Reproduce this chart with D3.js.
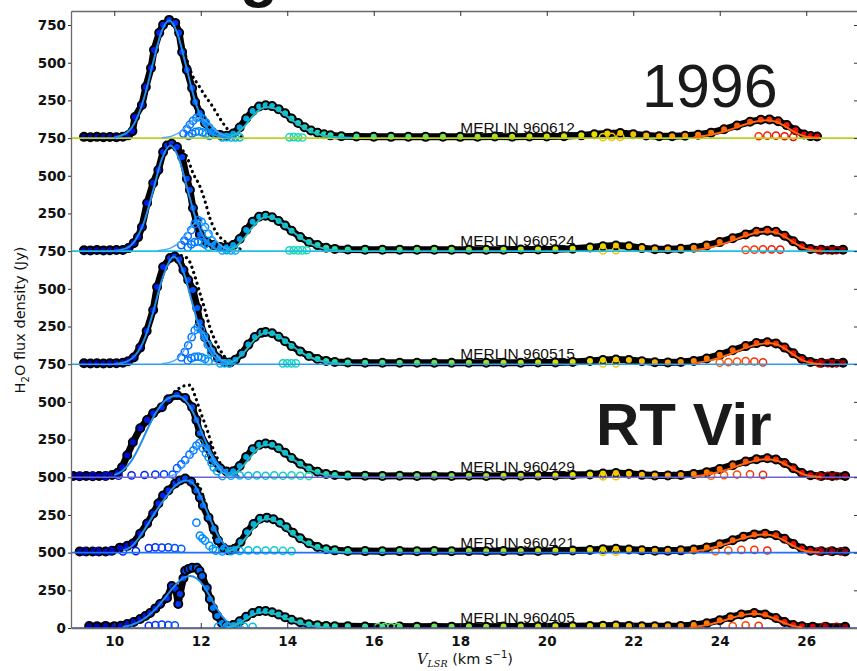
<!DOCTYPE html>
<html>
<head>
<meta charset="utf-8">
<script src="https://cdnjs.cloudflare.com/ajax/libs/d3/7.8.5/d3.min.js"></script>
<style>
  body { margin: 0; background: #fff; }
  svg { display: block; }
</style>
</head>
<body>
<div id="chart"></div>
<script>
// ---- chart data -------------------------------------------------------
const panelLabels = ["MERLIN 960612", "MERLIN 960524", "MERLIN 960515", "MERLIN 960429", "MERLIN 960421", "MERLIN 960405"];
const panelOffsets = [3250, 2500, 1750, 1000, 500, 0];   // Jy added to each epoch
const baseColors = ["#b8d020", "#20c0e0", "#2aa0f0", "#6a64d8", "#1e70ff", "#3050d8"];

const xTicks = [10, 12, 14, 16, 18, 20, 22, 24, 26];
const yTicks = [0, 250, 500, 750, 1000, 1250, 1500, 1750, 2000, 2250, 2500, 2750, 3000, 3250, 3500, 3750, 4000];
const yTickLabels = ["0", "250", "500", "250", "500", "250", "500", "750", "250", "500", "750", "250", "500", "750", "250", "500", "750"];

// spectra: [V_LSR km/s, flux Jy above the epoch baseline]
const spec960612 = [[9.3,8],[9.45,6],[9.6,8],[9.75,5],[9.9,7],[10.05,6],[10.2,9],[10.32,18],[10.42,45],[10.48,140],[10.64,219],[10.73,339],[10.85,465],[10.92,585],[11.04,698],[11.13,751],[11.27,784],[11.41,764],[11.5,698],[11.57,571],[11.68,452],[11.8,332],[11.87,239],[11.98,166],[12.1,100],[12.26,40],[12.45,20],[12.6,15],[12.75,30],[12.9,70],[13.05,130],[13.2,180],[13.35,210],[13.5,218],[13.65,212],[13.8,192],[13.95,165],[14.1,130],[14.25,100],[14.4,72],[14.55,50],[14.7,35],[14.85,25],[15.0,18],[15.25,12],[15.6,10],[16.0,9],[16.4,8],[16.8,9],[17.2,8],[17.6,9],[18.0,8],[18.4,9],[18.8,10],[19.2,9],[19.6,10],[20.0,10],[20.4,12],[20.8,18],[21.1,25],[21.4,31],[21.7,33],[22.0,26],[22.3,17],[22.6,12],[22.9,12],[23.2,15],[23.5,22],[23.8,36],[24.1,58],[24.4,84],[24.7,108],[24.95,122],[25.15,124],[25.35,112],[25.55,86],[25.75,52],[25.95,24],[26.1,13],[26.25,10]];
const spec960524 = [[9.3,6],[9.45,5],[9.6,7],[9.75,5],[9.9,6],[10.05,7],[10.2,8],[10.33,20],[10.45,53],[10.55,93],[10.64,160],[10.76,319],[10.9,452],[11.02,538],[11.13,658],[11.22,700],[11.33,712],[11.45,690],[11.57,625],[11.68,480],[11.75,405],[11.82,286],[11.9,193],[11.98,110],[12.14,60],[12.3,40],[12.45,28],[12.6,25],[12.75,40],[12.9,80],[13.05,140],[13.2,195],[13.35,228],[13.5,235],[13.65,225],[13.8,200],[13.95,170],[14.1,135],[14.3,93],[14.5,60],[14.7,40],[14.9,22],[15.1,15],[15.4,11],[15.8,10],[16.2,9],[16.6,10],[17.0,9],[17.4,10],[17.8,9],[18.2,10],[18.6,9],[19.0,10],[19.4,11],[19.8,11],[20.2,12],[20.6,16],[21.0,24],[21.3,32],[21.6,37],[21.9,32],[22.2,20],[22.5,13],[22.8,13],[23.1,16],[23.4,23],[23.7,38],[24.0,60],[24.3,86],[24.6,110],[24.85,128],[25.1,136],[25.3,128],[25.5,102],[25.7,66],[25.9,32],[26.1,14],[26.35,10],[26.6,9],[26.85,10]];
const spec960515 = [[9.3,6],[9.45,5],[9.6,6],[9.75,5],[9.9,6],[10.05,7],[10.2,9],[10.32,20],[10.45,45],[10.6,110],[10.75,220],[10.9,359],[10.99,512],[11.13,645],[11.29,704],[11.4,715],[11.5,695],[11.6,625],[11.71,559],[11.82,492],[11.92,372],[11.98,279],[12.1,179],[12.26,93],[12.4,40],[12.55,15],[12.68,12],[12.8,30],[12.95,70],[13.1,130],[13.25,180],[13.4,208],[13.5,213],[13.65,205],[13.8,182],[13.95,152],[14.1,120],[14.3,85],[14.5,55],[14.7,35],[14.9,22],[15.1,15],[15.4,11],[15.8,10],[16.2,9],[16.6,10],[17.0,9],[17.4,10],[17.8,9],[18.2,10],[18.6,10],[19.0,9],[19.4,10],[19.8,11],[20.2,12],[20.6,15],[21.0,22],[21.3,28],[21.6,31],[21.9,28],[22.2,19],[22.5,13],[22.8,12],[23.1,15],[23.4,22],[23.7,38],[24.0,62],[24.3,92],[24.6,120],[24.85,140],[25.1,146],[25.3,138],[25.5,110],[25.7,72],[25.9,35],[26.1,15],[26.35,10],[26.6,9],[26.85,10]];
const spec960429 = [[9.05,8],[9.2,7],[9.35,8],[9.5,7],[9.65,8],[9.8,9],[9.95,15],[10.08,30],[10.18,66],[10.3,146],[10.43,232],[10.6,325],[10.76,379],[10.9,425],[11.1,465],[11.25,518],[11.45,545],[11.64,525],[11.8,465],[11.9,379],[11.98,292],[12.15,199],[12.28,113],[12.45,60],[12.6,38],[12.75,40],[12.9,75],[13.05,135],[13.2,185],[13.35,215],[13.5,224],[13.65,215],[13.8,192],[13.95,162],[14.1,128],[14.3,90],[14.5,58],[14.7,36],[14.9,22],[15.1,15],[15.4,11],[15.8,10],[16.2,9],[16.6,10],[17.0,9],[17.4,10],[17.8,9],[18.2,10],[18.6,9],[19.0,10],[19.4,10],[19.8,11],[20.2,12],[20.6,15],[21.0,19],[21.3,25],[21.6,28],[21.9,24],[22.2,16],[22.5,12],[22.8,12],[23.1,15],[23.4,21],[23.7,34],[24.0,55],[24.3,80],[24.6,104],[24.85,120],[25.1,126],[25.3,118],[25.5,94],[25.7,60],[25.9,28],[26.1,13],[26.35,9],[26.6,9],[26.9,8]];
const spec960421 = [[9.2,8],[9.35,7],[9.5,8],[9.65,7],[9.8,8],[9.95,12],[10.13,33],[10.3,45],[10.43,60],[10.6,126],[10.76,193],[10.9,259],[11.02,326],[11.13,379],[11.25,412],[11.41,458],[11.52,478],[11.64,492],[11.78,470],[11.9,412],[11.98,365],[12.05,312],[12.18,232],[12.3,159],[12.4,80],[12.52,33],[12.65,15],[12.78,25],[12.92,70],[13.07,135],[13.22,190],[13.37,225],[13.53,232],[13.68,222],[13.83,198],[13.98,168],[14.13,132],[14.3,95],[14.5,62],[14.7,38],[14.9,22],[15.1,15],[15.4,11],[15.8,10],[16.2,9],[16.6,10],[17.0,9],[17.4,10],[17.8,9],[18.2,10],[18.6,9],[19.0,10],[19.4,10],[19.8,11],[20.2,12],[20.6,14],[21.0,18],[21.3,23],[21.6,26],[21.9,21],[22.2,15],[22.5,12],[22.8,12],[23.1,15],[23.4,21],[23.7,34],[24.0,56],[24.3,82],[24.55,106],[24.8,121],[25.05,126],[25.3,116],[25.5,92],[25.7,58],[25.9,27],[26.1,13],[26.35,9],[26.6,9],[26.9,8]];
const spec960405 = [[9.42,13],[9.6,12],[9.8,14],[10.0,12],[10.15,15],[10.3,27],[10.45,40],[10.6,60],[10.72,80],[10.83,100],[10.95,130],[11.06,159],[11.22,199],[11.33,279],[11.42,260],[11.48,159],[11.52,226],[11.6,330],[11.64,379],[11.72,392],[11.8,399],[11.91,399],[11.97,380],[12.03,345],[12.14,266],[12.21,193],[12.28,133],[12.38,80],[12.49,33],[12.6,15],[12.75,20],[12.9,45],[13.05,75],[13.2,100],[13.35,112],[13.5,113],[13.65,105],[13.8,90],[13.95,72],[14.1,55],[14.3,38],[14.5,25],[14.7,18],[14.9,14],[15.1,12],[15.4,11],[15.8,10],[16.2,9],[16.6,10],[17.0,9],[17.4,10],[17.8,9],[18.2,10],[18.6,9],[19.0,10],[19.4,10],[19.8,10],[20.2,11],[20.6,12],[21.0,13],[21.3,15],[21.6,16],[21.9,14],[22.2,12],[22.5,11],[22.8,12],[23.1,14],[23.4,20],[23.7,32],[24.0,52],[24.25,72],[24.5,90],[24.8,100],[25.05,90],[25.3,66],[25.5,40],[25.7,20],[25.9,11],[26.15,9],[26.45,9],[26.9,8]];

// black dotted comparison profiles
const dots960612 = [[11.45,760],[11.6,600],[11.7,500],[11.8,419],[11.95,350],[12.1,280],[12.25,220],[12.4,150],[12.55,85],[12.68,40],[12.85,15],[13.0,5]];
const dots960524 = [[11.5,690],[11.68,625],[11.82,518],[11.98,430],[12.1,330],[12.21,220],[12.37,120],[12.52,73],[12.68,45],[12.85,20],[13.0,8]];
const dots960515 = [[11.55,720],[11.7,700],[11.87,578],[11.98,472],[12.1,359],[12.21,246],[12.33,159],[12.45,93],[12.56,47],[12.68,13],[12.85,4]];
const dots960429 = [[11.3,540],[11.45,580],[11.6,605],[11.75,611],[11.88,530],[11.98,445],[12.15,312],[12.3,179],[12.45,93],[12.6,47],[12.75,18],[12.9,6]];
const dots960421 = [[11.7,485],[11.85,470],[11.98,432],[12.1,326],[12.18,212],[12.26,126],[12.35,65],[12.45,28],[12.6,8]];
const dots960405 = [];

// open circles: velocity components
const open960612 = [[11.6,30],[11.68,60],[11.75,90],[11.82,115],[11.9,135],[11.98,140],[12.05,128],[12.12,100],[12.2,70],[12.28,42],[12.36,22],[11.72,15],[11.8,30],[11.88,42],[11.96,45],[12.04,38],[12.12,28],[12.2,15],[12.5,5],[12.6,6],[12.7,4],[12.8,5],[12.9,5],[14.05,5],[14.15,6],[14.25,5],[14.35,4],[21.3,6],[21.5,8],[21.7,7],[24.9,12],[25.1,16],[25.3,16],[25.5,12],[25.7,8]];
const open960524 = [[11.55,40],[11.62,70],[11.7,100],[11.78,140],[11.86,180],[11.94,206],[12.02,195],[12.1,160],[12.18,115],[12.26,70],[12.34,40],[11.7,25],[11.78,45],[11.86,60],[11.94,65],[12.02,58],[12.1,45],[12.18,28],[12.5,5],[12.6,6],[12.7,5],[12.8,5],[14.05,5],[14.15,6],[14.25,5],[14.35,5],[14.45,6],[21.3,5],[21.6,6],[24.6,8],[24.8,10],[25.0,12],[25.2,12],[25.4,10],[26.3,6],[26.5,7],[26.7,6]];
const open960515 = [[11.55,45],[11.63,80],[11.71,125],[11.79,180],[11.86,225],[11.93,246],[12.0,230],[12.08,185],[12.16,130],[12.24,80],[12.32,45],[11.7,25],[11.78,40],[11.86,48],[11.94,50],[12.02,45],[12.1,35],[12.18,20],[12.45,5],[12.55,6],[12.65,5],[13.9,5],[14.0,6],[14.1,5],[14.2,5],[21.3,5],[21.6,6],[24.0,10],[24.2,14],[24.4,18],[24.6,20],[24.8,18],[25.0,12],[26.3,6],[26.5,7],[26.7,6]];
const open960429 = [[11.45,60],[11.55,85],[11.64,113],[11.74,150],[11.83,179],[11.9,210],[11.97,226],[12.05,193],[12.12,160],[12.18,133],[12.25,95],[12.3,66],[12.38,40],[9.2,8],[9.5,10],[9.8,8],[10.1,10],[10.4,12],[10.7,15],[10.95,18],[11.15,20],[11.35,18],[12.5,8],[12.7,10],[12.9,12],[13.1,10],[13.3,12],[13.5,10],[13.7,12],[13.9,10],[14.1,12],[14.3,10],[14.5,8],[21.3,6],[21.6,7],[23.8,10],[24.1,14],[24.4,18],[24.7,20],[25.0,16],[26.3,8],[26.5,10],[26.7,8]];
const open960421 = [[11.9,199],[11.98,113],[12.04,95],[12.1,80],[12.2,46],[12.28,25],[12.35,13],[9.3,8],[9.6,8],[9.9,10],[10.2,8],[10.5,10],[10.8,30],[10.95,35],[11.1,33],[11.25,35],[11.4,30],[11.55,25],[12.5,8],[12.7,10],[12.9,12],[13.1,15],[13.3,15],[13.5,14],[13.7,15],[13.9,12],[14.1,10],[21.3,5],[21.6,6],[23.9,10],[24.2,14],[24.5,18],[24.8,18],[25.1,14],[26.3,8],[26.55,10],[26.8,8]];
const open960405 = [[10.8,15],[10.95,20],[11.1,22],[11.25,20],[11.4,18],[12.4,8],[12.6,10],[12.8,8],[13.0,10],[13.2,8],[16.1,6],[16.25,6],[16.4,6],[16.55,6],[24.3,12],[24.6,18],[24.9,15],[26.4,8],[26.7,8]];

// fitted profiles: main peak, secondary component, 13.5 km/s and 25 km/s features
const fitMain960612 = [[10.0,4],[10.3,38],[10.5,117],[10.7,276],[10.9,503],[11.1,711],[11.27,780],[11.45,703],[11.65,491],[11.85,265],[12.05,111],[12.25,36],[12.45,9],[12.7,2]];
const fitMain960524 = [[10.0,2],[10.3,22],[10.5,78],[10.7,202],[10.9,403],[11.1,610],[11.3,700],[11.5,610],[11.7,403],[11.9,202],[12.1,78],[12.3,22],[12.5,5],[12.7,1]];
const fitMain960515 = [[10.0,2],[10.3,19],[10.5,63],[10.7,168],[10.9,346],[11.1,557],[11.38,712],[11.6,612],[11.8,410],[12.0,214],[12.2,87],[12.4,28],[12.6,7],[12.8,1]];
const fitMain960429 = [[10.0,15],[10.2,45],[10.4,110],[10.6,215],[10.8,340],[11.0,445],[11.2,515],[11.45,540],[11.7,490],[11.9,385],[12.1,245],[12.3,130],[12.5,55],[12.7,18],[12.9,5]];
const fitMain960421 = [[10.2,15],[10.4,40],[10.6,110],[10.8,200],[11.0,290],[11.2,370],[11.4,440],[11.55,470],[11.68,478],[11.85,450],[12.0,370],[12.15,270],[12.3,170],[12.45,90],[12.6,40],[12.75,15],[12.9,5]];
const fitMain960405 = [[10.2,8],[10.4,20],[10.6,45],[10.8,85],[11.0,140],[11.2,210],[11.4,280],[11.6,332],[11.75,345],[11.9,330],[12.05,285],[12.2,215],[12.35,140],[12.5,75],[12.65,32],[12.8,12],[13.0,3]];

const fitComp960612 = [[11.1,3],[11.35,15],[11.55,45],[11.75,100],[11.95,135],[12.15,105],[12.35,48],[12.55,14],[12.8,2]];
const fitComp960524 = [[11.0,3],[11.3,20],[11.55,70],[11.75,150],[11.95,200],[12.15,150],[12.35,70],[12.6,15],[12.9,2]];
const fitComp960515 = [[11.1,3],[11.4,25],[11.6,85],[11.8,190],[11.95,240],[12.1,190],[12.3,85],[12.5,25],[12.8,3]];
const fitComp960429 = [[11.2,3],[11.45,25],[11.65,90],[11.85,180],[12.0,215],[12.15,180],[12.35,90],[12.55,25],[12.8,3]];
const fitComp960421 = [];
const fitComp960405 = [];

const fitMid960612 = [[12.6,5],[12.8,25],[13.0,75],[13.2,145],[13.4,195],[13.55,205],[13.7,198],[13.9,165],[14.1,122],[14.3,82],[14.5,50],[14.7,28],[14.9,14],[15.2,5],[15.5,2]];
const fitMid960524 = [[12.6,5],[12.8,28],[13.0,85],[13.2,160],[13.4,215],[13.55,228],[13.7,218],[13.9,180],[14.1,135],[14.3,90],[14.5,55],[14.7,30],[14.9,15],[15.2,5],[15.5,2]];
const fitMid960515 = [[12.6,5],[12.8,25],[13.0,78],[13.2,148],[13.4,198],[13.55,208],[13.7,200],[13.9,167],[14.1,124],[14.3,84],[14.5,51],[14.7,28],[14.9,14],[15.2,5],[15.5,2]];
const fitMid960429 = [[12.6,6],[12.8,28],[13.0,82],[13.2,152],[13.4,205],[13.55,215],[13.7,205],[13.9,170],[14.1,127],[14.3,86],[14.5,52],[14.7,29],[14.9,15],[15.2,5],[15.5,2]];
const fitMid960421 = [[12.6,6],[12.8,28],[13.0,84],[13.2,156],[13.4,212],[13.55,224],[13.7,213],[13.9,176],[14.1,131],[14.3,88],[14.5,54],[14.7,30],[14.9,15],[15.2,5],[15.5,2]];
const fitMid960405 = [[12.6,4],[12.8,18],[13.0,50],[13.2,88],[13.45,105],[13.7,95],[13.9,72],[14.1,50],[14.3,32],[14.5,18],[14.7,9],[15.0,3]];

const fitFar960612 = [[23.4,5],[23.8,22],[24.2,52],[24.6,92],[24.9,113],[25.1,118],[25.3,108],[25.5,80],[25.7,45],[25.9,18],[26.1,5],[26.3,2]];
const fitFar960524 = [[23.4,6],[23.8,26],[24.2,60],[24.6,102],[24.9,125],[25.12,130],[25.35,118],[25.55,88],[25.75,50],[25.95,20],[26.15,6],[26.35,2]];
const fitFar960515 = [[23.4,6],[23.8,27],[24.2,63],[24.6,108],[24.9,132],[25.12,140],[25.35,127],[25.55,95],[25.75,55],[25.95,22],[26.15,7],[26.35,2]];
const fitFar960429 = [[23.4,5],[23.8,23],[24.2,54],[24.6,93],[24.9,114],[25.1,120],[25.35,108],[25.55,80],[25.75,46],[25.95,18],[26.15,6],[26.35,2]];
const fitFar960421 = [[23.3,5],[23.7,23],[24.1,54],[24.5,93],[24.8,114],[25.05,120],[25.3,106],[25.5,78],[25.7,44],[25.9,17],[26.1,5],[26.3,2]];
const fitFar960405 = [[23.3,4],[23.7,20],[24.1,50],[24.5,85],[24.8,95],[25.05,85],[25.3,58],[25.5,32],[25.7,14],[25.9,5]];

// ---- layout --------------------------------------------------------------
const W = 857, H = 671;
const x = d3.scaleLinear().domain([9, 27.22]).range([71, 859]);
const y = d3.scaleLinear().domain([0, 4093]).range([628, 11]);

// colour by velocity (jet-like)
const vColor = d3.scaleLinear()
  .domain([9.0, 10.5, 11.5, 12.5, 13.5, 15, 17, 19, 21, 22.5, 24, 25, 26, 27])
  .range(["#00008f", "#0010e0", "#0038ff", "#0090ff", "#00c0d8", "#20e0b0", "#60e060", "#b0e020", "#e8e000", "#ffb000", "#ff7000", "#ff4000", "#f00000", "#900000"])
  .clamp(true);

const panels = [
  { spec: spec960612, dots: dots960612, open: open960612, main: fitMain960612, comp: fitComp960612, mid: fitMid960612, far: fitFar960612 },
  { spec: spec960524, dots: dots960524, open: open960524, main: fitMain960524, comp: fitComp960524, mid: fitMid960524, far: fitFar960524 },
  { spec: spec960515, dots: dots960515, open: open960515, main: fitMain960515, comp: fitComp960515, mid: fitMid960515, far: fitFar960515 },
  { spec: spec960429, dots: dots960429, open: open960429, main: fitMain960429, comp: fitComp960429, mid: fitMid960429, far: fitFar960429 },
  { spec: spec960421, dots: dots960421, open: open960421, main: fitMain960421, comp: fitComp960421, mid: fitMid960421, far: fitFar960421 },
  { spec: spec960405, dots: dots960405, open: open960405, main: fitMain960405, comp: fitComp960405, mid: fitMid960405, far: fitFar960405 }
];
panels.forEach((p, i) => { p.label = panelLabels[i]; p.off = panelOffsets[i]; p.base = baseColors[i]; });

const svg = d3.select("#chart").append("svg")
  .attr("width", W)
  .attr("height", H)
  .style("font-family", "'DejaVu Sans', sans-serif");

svg.append("defs").append("clipPath").attr("id", "plotclip")
  .append("rect").attr("x", 71).attr("y", 11).attr("width", 788).attr("height", 617);

const plot = svg.append("g").attr("clip-path", "url(#plotclip)");

panels.forEach(p => {
  const g = plot.append("g");
  const py = d => y(d[1] + p.off);
  const straight = d3.line().x(d => x(d[0])).y(py);
  const smooth = d3.line().x(d => x(d[0])).y(py).curve(d3.curveMonotoneX);

  // dotted comparison profile (under the data)
  if (p.dots.length) {
    g.append("path").attr("d", smooth(p.dots))
      .attr("fill", "none").attr("stroke", "#000").attr("stroke-width", 3.2)
      .attr("stroke-linecap", "round").attr("stroke-dasharray", "0.1 5.5");
  }

  // observed spectrum: black band + filled markers
  g.append("path").attr("d", straight(p.spec))
    .attr("fill", "none").attr("stroke", "#000").attr("stroke-width", 7)
    .attr("stroke-linejoin", "round");
  g.selectAll("circle.pt").data(p.spec).enter().append("circle")
    .attr("class", "pt")
    .attr("cx", d => x(d[0])).attr("cy", py).attr("r", 4)
    .attr("fill", d => vColor(d[0])).attr("stroke", "#000").attr("stroke-width", 2);

  // open circles of the velocity components
  g.selectAll("circle.op").data(p.open).enter().append("circle")
    .attr("class", "op")
    .attr("cx", d => x(d[0])).attr("cy", py).attr("r", 3.6)
    .attr("fill", "none").attr("stroke", d => vColor(d[0] + 0.4)).attr("stroke-width", 1.5);

  // zero line of the epoch
  g.append("line")
    .attr("x1", 71).attr("x2", 859)
    .attr("y1", y(p.off)).attr("y2", y(p.off))
    .attr("stroke", p.base).attr("stroke-width", 1.6);

  // fitted profiles
  if (p.comp.length) {
    g.append("path").attr("d", smooth(p.comp))
      .attr("fill", "none").attr("stroke", "#4aa8ff").attr("stroke-width", 1.4);
  }
  g.append("path").attr("d", smooth(p.main))
    .attr("fill", "none").attr("stroke", "#1e8cf0").attr("stroke-width", 2);
  g.append("path").attr("d", smooth(p.mid))
    .attr("fill", "none").attr("stroke", "#22b6c6").attr("stroke-width", 2);
  g.append("path").attr("d", smooth(p.far))
    .attr("fill", "none").attr("stroke", "#ff6410").attr("stroke-width", 2);

  // epoch label
  svg.append("text")
    .attr("x", x(18.0)).attr("y", y(p.off) - 5)
    .attr("font-family", "'Liberation Sans', Arial, sans-serif")
    .attr("font-size", 15.5).attr("fill", "#111")
    .text(p.label);
});

// ---- axes ---------------------------------------------------------------
const axisStyle = g => {
  g.select(".domain").attr("stroke", "#6a6a6a").attr("stroke-width", 1.3);
  g.selectAll(".tick line").attr("stroke", "#333");
  g.selectAll("text").attr("font-family", "'DejaVu Sans', sans-serif")
    .attr("font-size", 13.5).attr("font-weight", "bold").attr("fill", "#111");
};

svg.append("g").attr("transform", "translate(71,0)")
  .call(d3.axisLeft(y).tickValues(yTicks).tickFormat((d, i) => yTickLabels[i])
    .tickSizeInner(3).tickSizeOuter(0).tickPadding(2))
  .call(axisStyle);

svg.append("g").attr("transform", "translate(859,0)")
  .call(d3.axisRight(y).tickValues(yTicks).tickFormat("")
    .tickSizeInner(-5).tickSizeOuter(0))
  .call(axisStyle);

svg.append("g").attr("transform", "translate(0,628)")
  .call(d3.axisBottom(x).tickValues(xTicks).tickFormat(d3.format("d"))
    .tickSizeInner(-5).tickSizeOuter(0).tickPadding(8))
  .call(axisStyle);

svg.append("g").attr("transform", "translate(0,11)")
  .call(d3.axisTop(x).tickValues(xTicks).tickFormat("")
    .tickSizeInner(-5).tickSizeOuter(0))
  .call(axisStyle);

// axis titles
const yTitle = svg.append("text")
  .attr("transform", "translate(25,320) rotate(-90)")
  .attr("text-anchor", "middle")
  .attr("font-size", 14.5).attr("fill", "#111");
yTitle.append("tspan").text("H");
yTitle.append("tspan").attr("font-size", 10).attr("dy", 4).text("2");
yTitle.append("tspan").attr("dy", -4).text("O  flux density (Jy)");

const xTitle = svg.append("text")
  .attr("x", 465).attr("y", 664)
  .attr("text-anchor", "middle")
  .attr("font-size", 14.5).attr("fill", "#111");
xTitle.append("tspan").attr("font-family", "'DejaVu Serif', serif").attr("font-style", "italic").text("V");
xTitle.append("tspan").attr("font-family", "'DejaVu Serif', serif").attr("font-style", "italic")
  .attr("font-size", 9.5).attr("dy", 3).text("LSR");
xTitle.append("tspan").attr("dy", -3).text(" (km s");
xTitle.append("tspan").attr("font-size", 10).attr("dy", -6).text("−1");
xTitle.append("tspan").attr("dy", 6).text(")");

// ---- annotations --------------------------------------------------------
svg.append("text")
  .attr("x", 240).attr("y", -5)
  .attr("font-family", "'Liberation Sans', Arial, sans-serif")
  .attr("font-weight", "bold").attr("font-size", 62).attr("fill", "#111")
  .text("g");

svg.append("text")
  .attr("x", 642).attr("y", 107)
  .attr("font-family", "'Liberation Sans', Arial, sans-serif")
  .attr("font-size", 61).attr("fill", "#1a1a1a")
  .text("1996");

svg.append("text")
  .attr("x", 596).attr("y", 445)
  .attr("font-family", "'Liberation Sans', Arial, sans-serif")
  .attr("font-weight", "bold").attr("font-size", 60).attr("fill", "#1a1a1a")
  .text("RT Vir");
</script>
</body>
</html>
